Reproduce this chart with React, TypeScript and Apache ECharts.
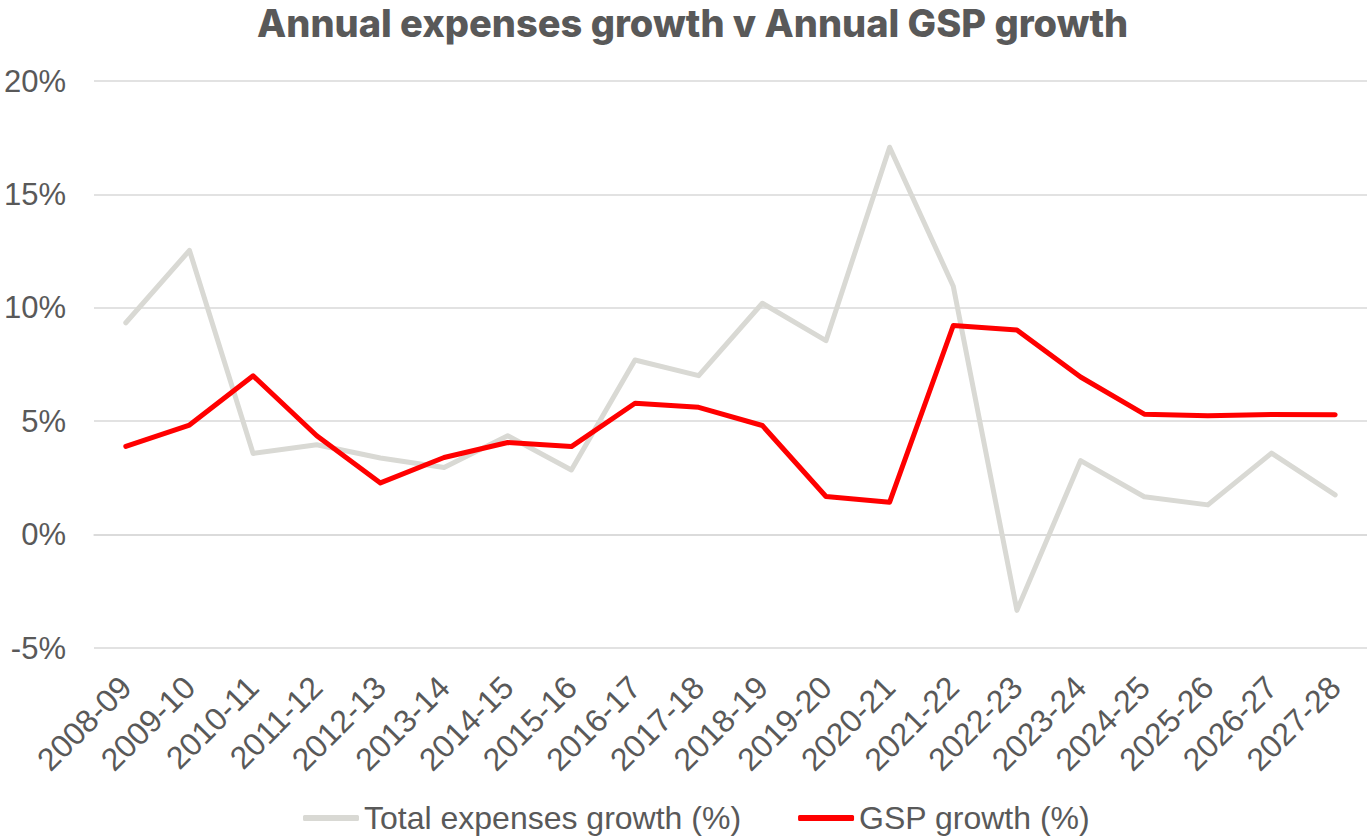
import React, { useEffect, useRef } from "react";
import * as echarts from "echarts";

const categories = [
  "2008-09", "2009-10", "2010-11", "2011-12", "2012-13", "2013-14", "2014-15",
  "2015-16", "2016-17", "2017-18", "2018-19", "2019-20", "2020-21", "2021-22",
  "2022-23", "2023-24", "2024-25", "2025-26", "2026-27", "2027-28",
];

const totalExpensesGrowth = [
  9.34, 12.53, 3.58, 3.96, 3.38, 2.96, 4.36, 2.85, 7.7, 7.01,
  10.2, 8.55, 17.08, 10.95, -3.34, 3.26, 1.67, 1.31, 3.59, 1.75,
];

const gspGrowth = [
  3.89, 4.83, 7.0, 4.36, 2.28, 3.4, 4.06, 3.88, 5.79, 5.61,
  4.81, 1.68, 1.43, 9.22, 9.02, 6.95, 5.31, 5.24, 5.29, 5.28,
];

const seriesNames = ["Total expenses growth (%)", "GSP growth (%)"];
const titleText = "Annual expenses growth v Annual GSP growth";

export default function App() {
  const ref = useRef<HTMLDivElement>(null);

  useEffect(() => {
    if (!ref.current) return;
    const chart = echarts.init(ref.current, null, { renderer: "svg" });
    const labelFont = "Liberation Sans, Arial, sans-serif";
    chart.setOption({
      animation: false,
      backgroundColor: "#ffffff",
      title: {
        text: titleText,
        left: 257,
        top: 3,
        padding: 0,
        textStyle: {
          fontFamily: "Inter, Noto Sans, sans-serif",
          fontWeight: 800,
          fontSize: 38,
          lineHeight: 40,
          color: "#595959",
        },
      },
      legend: {
        top: 802,
        left: 303,
        padding: 0,
        itemWidth: 56,
        itemHeight: 6,
        itemGap: 57,
        icon: "roundRect",
        textStyle: {
          fontFamily: labelFont,
          fontSize: 32,
          color: "#595959",
        },
        data: seriesNames,
      },
      grid: {
        left: 94,
        right: -2,
        top: 81,
        bottom: 188,
        containLabel: false,
      },
      xAxis: {
        type: "category",
        data: categories,
        boundaryGap: true,
        axisLine: { show: true, lineStyle: { color: "#d9d9d9", width: 1.5 } },
        axisTick: { show: false },
        axisLabel: {
          rotate: 45,
          margin: 34,
          interval: 0,
          fontFamily: labelFont,
          fontSize: 32,
          color: "#595959",
        },
      },
      yAxis: {
        type: "value",
        min: -5,
        max: 20,
        interval: 5,
        axisLine: { show: false },
        axisTick: { show: false },
        splitLine: { lineStyle: { color: "#d9d9d9", width: 1.5 } },
        axisLabel: {
          formatter: "{value}%",
          margin: 28,
          fontFamily: labelFont,
          fontSize: 31,
          color: "#595959",
        },
      },
      series: [
        {
          name: seriesNames[0],
          type: "line",
          data: totalExpensesGrowth,
          showSymbol: false,
          symbol: "none",
          color: "#d9d9d4",
          lineStyle: { color: "#d9d9d4", width: 5, cap: "round", join: "round" },
        },
        {
          name: seriesNames[1],
          type: "line",
          data: gspGrowth,
          showSymbol: false,
          symbol: "none",
          color: "#ff0000",
          lineStyle: { color: "#ff0000", width: 5, cap: "round", join: "round" },
        },
      ],
    });
    return () => chart.dispose();
  }, []);

  return (
    <div
      ref={ref}
      style={{ position: "fixed", left: 0, top: 0, width: 1367, height: 836 }}
    />
  );
}
